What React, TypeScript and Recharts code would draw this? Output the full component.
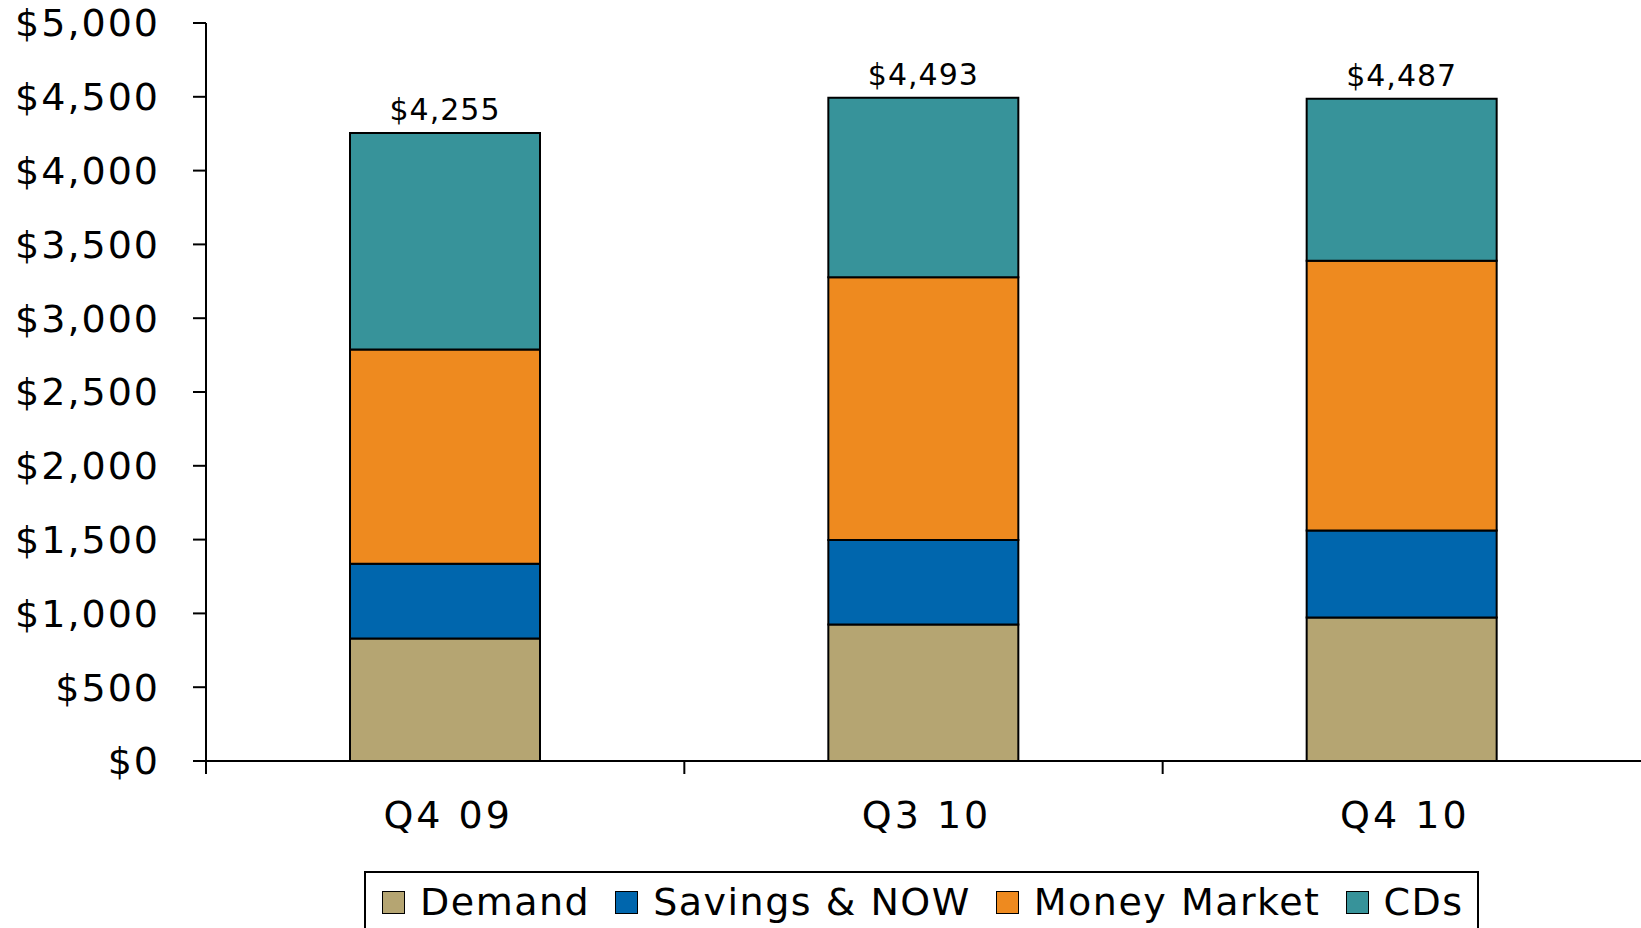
import React from 'react';
import { BarChart, Bar, XAxis, YAxis, LabelList, Legend } from 'recharts';

// deposit mix, $ millions
const quarters = ['Q4 09', 'Q3 10', 'Q4 10'];
const demand = [830, 925, 972];
const savingsNow = [506, 573, 589];
const moneyMarket = [1452, 1779, 1829];
const cds = [1467, 1216, 1097];
const totals = [4255, 4493, 4487];

const yTicks = [0, 500, 1000, 1500, 2000, 2500, 3000, 3500, 4000, 4500, 5000];

const seriesKeys = ['demand', 'savings', 'mm', 'cds'];
const seriesNames = ['Demand', 'Savings & NOW', 'Money Market', 'CDs'];
const seriesColors = ['#B5A572', '#0066AD', '#EE8A1F', '#37939A'];

const data = quarters.map((q, i) => ({
  name: q,
  demand: demand[i],
  savings: savingsNow[i],
  mm: moneyMarket[i],
  cds: cds[i],
  total: totals[i],
}));

const money = (v: number) => '$' + v.toLocaleString('en-US');

const W = 1641;
const H = 928;
const AXIS_W = 206;

function XTick(props: any) {
  const { x, y, payload } = props;
  const half = payload && payload.offset != null ? payload.offset : (W - AXIS_W) / 6;
  const left = x - half;
  return (
    <g>
      <line x1={left} x2={left} y1={y} y2={y + 13} stroke="#000" strokeWidth={2} />
      <text x={x + 3} y={y + 67} textAnchor="middle" fontSize={38} letterSpacing={3} fill="#000">
        {payload.value}
      </text>
    </g>
  );
}

const renderLegend = () => (
  <div
    style={{
      boxSizing: 'border-box',
      width: 1115,
      height: 57,
      border: '2px solid #000',
      borderBottom: 'none',
      display: 'flex',
      alignItems: 'center',
      paddingLeft: 16,
      paddingTop: 3,
      fontSize: 38,
      letterSpacing: 1.5,
      color: '#000',
      overflow: 'hidden',
      background: '#fff',
    }}
  >
    {seriesNames.map((n, i) => (
      <div key={n} style={{ display: 'flex', alignItems: 'center', marginRight: 25 }}>
        <span
          style={{
            display: 'inline-block',
            width: 23,
            height: 23,
            boxSizing: 'border-box',
            border: '1.5px solid #000',
            background: seriesColors[i],
            marginRight: 15,
          }}
        />
        <span style={{ lineHeight: '40px', whiteSpace: 'nowrap' }}>{n}</span>
      </div>
    ))}
  </div>
);

export default function App() {
  return (
    <div style={{ position: 'absolute', left: 0, top: 0, width: W, height: H, overflow: 'hidden', background: '#fff' }}>
      <BarChart
        width={W}
        height={H}
        data={data}
        margin={{ top: 23, right: 0, left: 0, bottom: 0 }}
        style={{ fontFamily: 'DejaVu Sans' }}
      >
        <YAxis
          width={AXIS_W}
          domain={[0, 5000]}
          ticks={yTicks}
          interval={0}
          tickFormatter={money}
          tickSize={13}
          tickMargin={33}
          axisLine={{ stroke: '#000', strokeWidth: 2 }}
          tickLine={{ stroke: '#000', strokeWidth: 2 }}
          tick={{ fontSize: 38, fill: '#000', letterSpacing: 2 }}
        />
        <XAxis
          dataKey="name"
          height={H - 761}
          tickLine={false}
          tickSize={0}
          tickMargin={0}
          interval={0}
          axisLine={{ stroke: '#000', strokeWidth: 2 }}
          tick={<XTick />}
        />
        <Legend
          verticalAlign="middle"
          align="center"
          content={renderLegend}
          wrapperStyle={{ left: 364, top: 871, width: 1115, height: 57 }}
        />
        {seriesKeys.map((k, i) => (
          <Bar
            key={k}
            dataKey={k}
            name={seriesNames[i]}
            stackId="dep"
            fill={seriesColors[i]}
            stroke="#000"
            strokeWidth={2}
            barSize={190}
            isAnimationActive={false}
          >
            {k === 'cds' && (
              <LabelList
                dataKey="total"
                position="top"
                offset={13}
                formatter={money}
                style={{ fontSize: 30, fill: '#000', letterSpacing: 1 }}
              />
            )}
          </Bar>
        ))}
      </BarChart>
    </div>
  );
}
